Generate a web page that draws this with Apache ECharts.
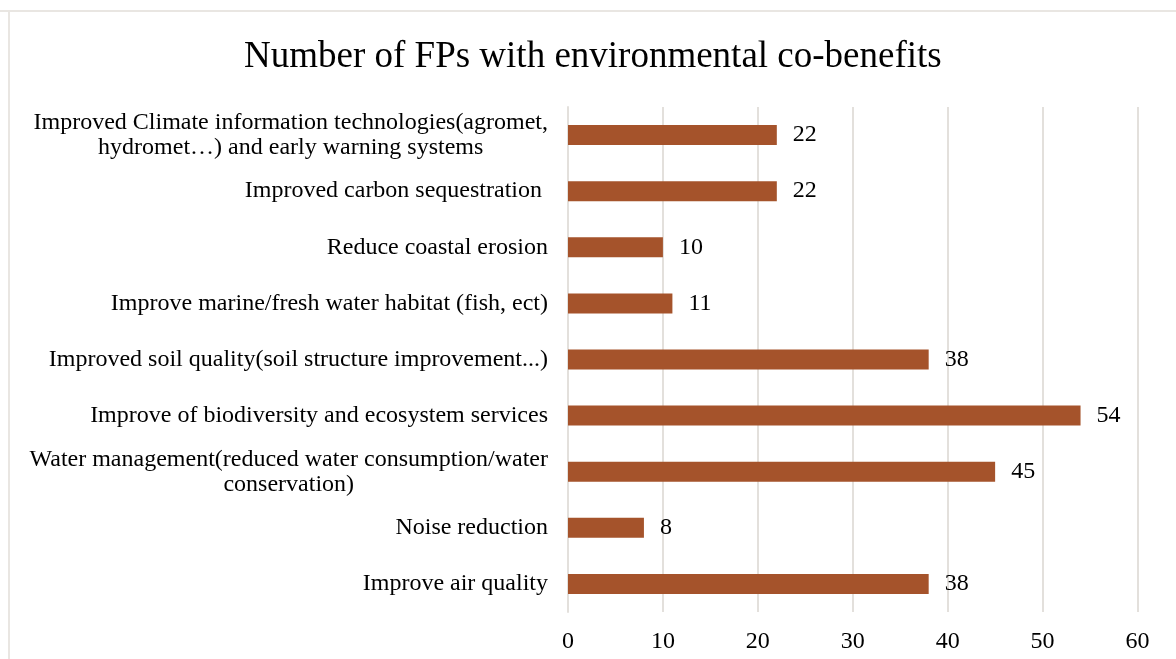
<!DOCTYPE html>
<html>
<head>
<meta charset="utf-8">
<title>Number of FPs with environmental co-benefits</title>
<script src="https://cdn.jsdelivr.net/npm/echarts@6/dist/echarts.min.js"></script>
<style>
  html, body { margin: 0; padding: 0; background: #ffffff; }
  #chart { width: 1176px; height: 659px; }
</style>
</head>
<body>
<div id="chart"></div>
<script>
// Co-benefit categories, listed top to bottom
const categories = [
  'Improved Climate information technologies(agromet,\nhydromet\u2026) and early warning systems',
  'Improved carbon sequestration ',
  'Reduce coastal erosion',
  'Improve marine/fresh water habitat (fish, ect)',
  'Improved soil quality(soil structure improvement...)',
  'Improve of biodiversity and ecosystem services',
  'Water management(reduced water consumption/water\nconservation)',
  'Noise reduction',
  'Improve air quality'
];

// Number of FPs per category
const fpCounts = [22, 22, 10, 11, 38, 54, 45, 8, 38];

// Value axis ticks
const axisMin = 0;
const axisMax = 60;
const axisStep = 10;

const serif = '"Liberation Serif", "Times New Roman", serif';

const chart = echarts.init(document.getElementById('chart'), null, { renderer: 'canvas' });

chart.setOption({
  backgroundColor: '#ffffff',
  animation: false,
  title: {
    text: 'Number of FPs with environmental co-benefits',
    left: 239,
    top: 34,
    textStyle: {
      fontFamily: serif,
      fontSize: 37,
      fontWeight: 'normal',
      color: '#000000'
    }
  },
  graphic: [
    { type: 'rect', shape: { x: 0, y: 10, width: 1176, height: 2 }, style: { fill: '#e9e6e2' }, silent: true },
    { type: 'rect', shape: { x: 8, y: 10, width: 2, height: 649 }, style: { fill: '#e9e6e2' }, silent: true }
  ],
  grid: {
    left: 568,
    right: 38.5,
    top: 107,
    bottom: 47,
    containLabel: false
  },
  xAxis: {
    type: 'value',
    min: axisMin,
    max: axisMax,
    interval: axisStep,
    axisLine: { show: false },
    axisTick: { show: false },
    splitLine: { show: true, lineStyle: { color: '#e3e0dc', width: 2 } },
    axisLabel: {
      fontFamily: serif,
      fontSize: 24,
      color: '#000000',
      margin: 18
    }
  },
  yAxis: {
    type: 'category',
    inverse: true,
    data: categories,
    axisLine: { show: true, lineStyle: { color: '#e3e0dc', width: 2 } },
    axisTick: { show: false },
    splitLine: { show: false },
    axisLabel: {
      margin: 20,
      align: 'right',
      formatter: function (value) {
        return value.split('\n').map(function (line) { return '{c|' + line + '}'; }).join('\n');
      },
      rich: {
        c: {
          align: 'center',
          fontFamily: serif,
          fontSize: 24,
          lineHeight: 25,
          color: '#000000'
        }
      }
    }
  },
  series: [{
    type: 'bar',
    data: fpCounts,
    barWidth: 20,
    itemStyle: { color: '#a5532b' },
    label: {
      show: true,
      position: 'right',
      distance: 16,
      fontFamily: serif,
      fontSize: 24,
      color: '#000000'
    }
  }]
});
</script>
</body>
</html>
